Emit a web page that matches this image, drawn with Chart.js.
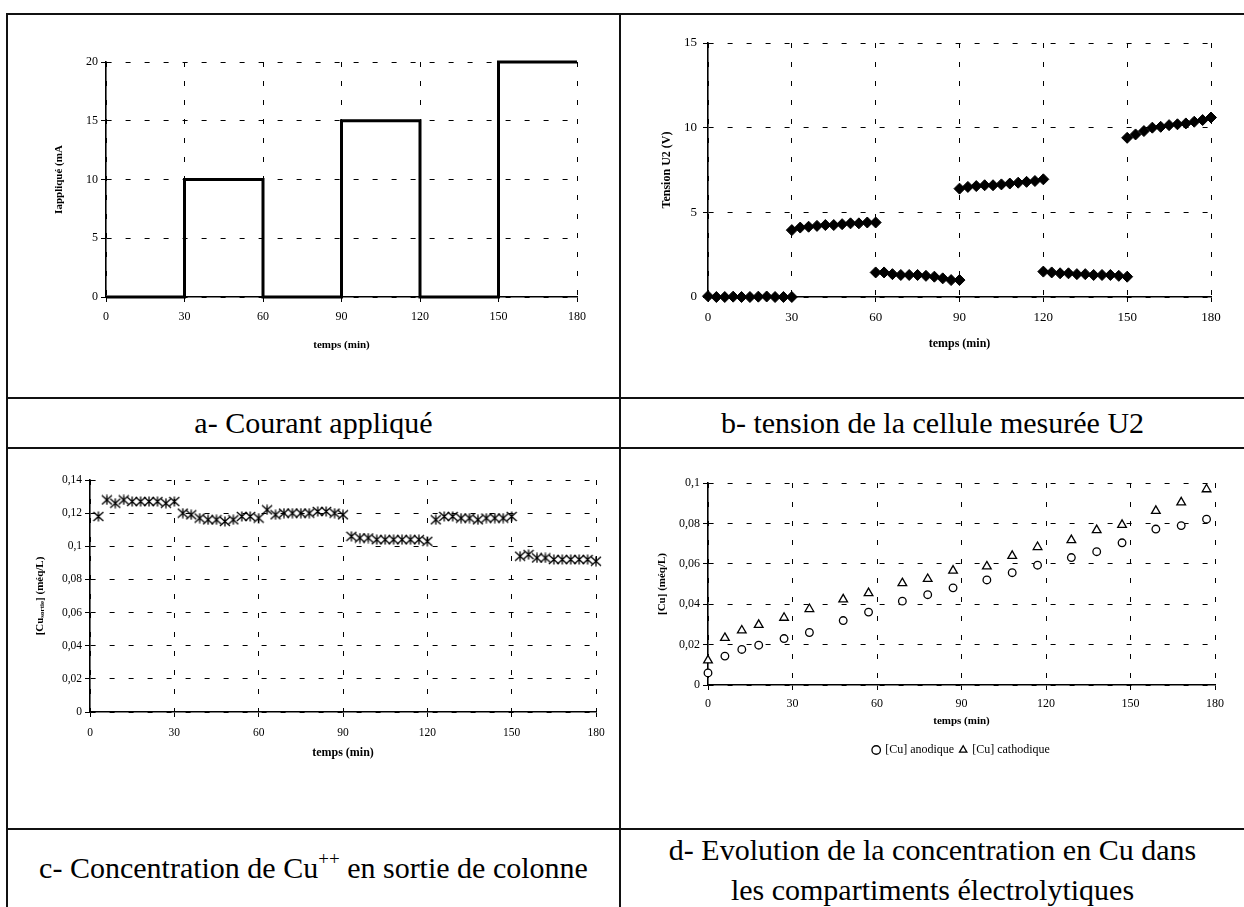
<!DOCTYPE html>
<html>
<head>
<meta charset="utf-8">
<script src="https://cdn.jsdelivr.net/npm/chart.js@4.4.1/dist/chart.umd.min.js"></script>
<style>
  body { margin: 0; background: #fff; }
  #page { position: relative; width: 1244px; height: 907px; overflow: hidden;
          font-family: 'Liberation Serif', 'Times New Roman', serif; color: #000; }
  canvas { position: absolute; }
  .hline { position: absolute; height: 2px; background: #111; }
  .vline { position: absolute; width: 2px; background: #111; }
  .caption { position: absolute; text-align: center; font-size: 30px; line-height: 40px; white-space: nowrap; }
  .caption sup { font-size: 19px; line-height: 0; vertical-align: 13px; }
</style>
</head>
<body>
<div id="page">
  <canvas id="chartA" width="611" height="382" style="left:8px;top:15px"></canvas>
  <canvas id="chartB" width="623" height="382" style="left:621px;top:15px"></canvas>
  <canvas id="chartC" width="611" height="380" style="left:8px;top:449px"></canvas>
  <canvas id="chartD" width="623" height="380" style="left:621px;top:449px"></canvas>

  <div class="hline" style="left:6px;top:13px;width:1238px"></div>
  <div class="hline" style="left:6px;top:397px;width:1238px"></div>
  <div class="hline" style="left:6px;top:447px;width:1238px"></div>
  <div class="hline" style="left:6px;top:828px;width:1238px"></div>
  <div class="vline" style="left:6px;top:13px;height:894px"></div>
  <div class="vline" style="left:619px;top:13px;height:894px"></div>

  <div class="caption" style="left:8px;width:611px;top:403px">a- Courant appliqué</div>
  <div class="caption" style="left:621px;width:623px;top:403px">b- tension de la cellule mesurée U2</div>
  <div class="caption" style="left:8px;width:611px;top:848px">c- Concentration de Cu<sup>++</sup> en sortie de colonne</div>
  <div class="caption" style="left:621px;width:623px;top:830px">d- Evolution de la concentration en Cu dans<br>les compartiments électrolytiques</div>
</div>

<script>
// a- applied current, held from each time until the next one
const stepTimes = [0, 30, 60, 90, 120, 150, 180];
const appliedCurrent = [0, 10, 0, 15, 0, 20, 20];

// b- measured cell voltage U2 (V), readings every 3 min
const tensionTimes = [
  0, 3, 6, 9, 12, 15, 18, 21, 24, 27, 30,
  30, 33, 36, 39, 42, 45, 48, 51, 54, 57, 60,
  60, 63, 66, 69, 72, 75, 78, 81, 84, 87, 90,
  90, 93, 96, 99, 102, 105, 108, 111, 114, 117, 120,
  120, 123, 126, 129, 132, 135, 138, 141, 144, 147, 150,
  150, 153, 156, 159, 162, 165, 168, 171, 174, 177, 180
];
const tensionU2 = [
  0.05, 0, 0, 0.02, 0, 0, 0.02, 0.03, 0, 0, 0,
  3.95, 4.1, 4.15, 4.2, 4.25, 4.25, 4.3, 4.35, 4.35, 4.4, 4.4,
  1.45, 1.45, 1.35, 1.3, 1.3, 1.3, 1.25, 1.2, 1.1, 1.0, 1.0,
  6.4, 6.5, 6.55, 6.6, 6.6, 6.65, 6.7, 6.75, 6.8, 6.85, 6.95,
  1.5, 1.45, 1.4, 1.4, 1.35, 1.35, 1.3, 1.3, 1.3, 1.25, 1.2,
  9.4, 9.6, 9.8, 10.0, 10.05, 10.15, 10.2, 10.25, 10.35, 10.45, 10.6
];

// c- Cu++ at the column outlet (méq/L)
const sortieTimes = [
  3, 6, 9, 12, 15, 18, 21, 24, 27, 30,
  33, 36, 39, 42, 45, 48, 51, 54, 57, 60,
  63, 66, 69, 72, 75, 78, 81, 84, 87, 90,
  93, 96, 99, 102, 105, 108, 111, 114, 117, 120,
  123, 126, 129, 132, 135, 138, 141, 144, 147, 150,
  153, 156, 159, 162, 165, 168, 171, 174, 177, 180
];
const cuSortie = [
  0.118, 0.128, 0.126, 0.128, 0.127, 0.127, 0.127, 0.127, 0.126, 0.127,
  0.120, 0.119, 0.117, 0.116, 0.116, 0.115, 0.116, 0.118, 0.118, 0.117,
  0.122, 0.119, 0.120, 0.120, 0.120, 0.120, 0.121, 0.121, 0.120, 0.119,
  0.106, 0.105, 0.105, 0.104, 0.104, 0.104, 0.104, 0.104, 0.104, 0.103,
  0.116, 0.118, 0.118, 0.117, 0.117, 0.116, 0.117, 0.117, 0.117, 0.118,
  0.094, 0.095, 0.093, 0.093, 0.092, 0.092, 0.092, 0.092, 0.092, 0.091
];

// d- Cu in the anode and cathode compartments (méq/L)
const compTimes = [0, 6, 12, 18, 27, 36, 48, 57, 69, 78, 87, 99, 108, 117, 129, 138, 147, 159, 168, 177];
const cuAnodique = [0.006, 0.0143, 0.0176, 0.0197, 0.023, 0.026, 0.0319, 0.0361, 0.0415, 0.0447,
                    0.0481, 0.052, 0.0556, 0.0593, 0.0631, 0.066, 0.0704, 0.0772, 0.0789, 0.0821];
const cuCathodique = [0.0122, 0.0233, 0.027, 0.0298, 0.0333, 0.0376, 0.0424, 0.0455, 0.0504, 0.0525,
                      0.0566, 0.0587, 0.0639, 0.0683, 0.0717, 0.0767, 0.0793, 0.0862, 0.0904, 0.0969];

const timeTicks = { min: 0, max: 180, step: 30 };

Chart.defaults.color = '#000';
Chart.defaults.font.family = "'Liberation Serif', 'Times New Roman', serif";
Chart.defaults.animation = false;

const pts = (xs, ys) => xs.map((x, i) => ({ x: x, y: ys[i] }));
const frNum = v => String(Math.round(v * 1000) / 1000).replace('.', ',');

// dotted grid, solid axis lines, short outward ticks
function axis(opts) {
  const a = {
    type: 'linear',
    min: opts.min, max: opts.max,
    grid: { color: '#000', lineWidth: 1, tickLength: 5, tickWidth: 1 },
    border: { color: '#000', width: 1.6, dash: [5, 14] },
    ticks: { stepSize: opts.step, padding: opts.pad, font: { size: opts.size },
             callback: opts.fr ? frNum : (v => v) },
    afterFit: s => { if (opts.w) s.width = opts.w; if (opts.h) s.height = opts.h; }
  };
  if (opts.title) {
    a.title = { display: true, text: opts.title, font: { size: opts.tsize, weight: 'bold' },
                padding: opts.tpad };
  }
  return a;
}

// a- Courant appliqué
new Chart(document.getElementById('chartA'), {
  type: 'line',
  data: {
    datasets: [{
      data: pts(stepTimes, appliedCurrent),
      stepped: true,
      borderColor: '#000', borderWidth: 3,
      pointRadius: 0, clip: false
    }]
  },
  options: {
    responsive: false,
    layout: { padding: { left: 0, top: 47, right: 42, bottom: 0 } },
    plugins: { legend: { display: false }, tooltip: { enabled: false } },
    scales: {
      x: axis({ min: timeTicks.min, max: timeTicks.max, step: timeTicks.step, pad: 8, size: 12, h: 100,
                title: 'temps (min)', tsize: 11, tpad: { top: 0, bottom: 45 } }),
      y: axis({ min: 0, max: 20, step: 5, pad: 3, size: 12, w: 98,
                title: 'Iappliqué (mA', tsize: 11, tpad: { top: 45, bottom: 0 } })
    }
  }
});

// b- tension U2
new Chart(document.getElementById('chartB'), {
  type: 'scatter',
  data: {
    datasets: [{
      data: pts(tensionTimes, tensionU2),
      pointStyle: 'rectRot', pointRadius: 5.5,
      backgroundColor: '#000', borderColor: '#000', borderWidth: 1, clip: false
    }]
  },
  options: {
    responsive: false,
    layout: { padding: { left: 0, top: 28, right: 33, bottom: 0 } },
    plugins: { legend: { display: false }, tooltip: { enabled: false } },
    scales: {
      x: axis({ min: timeTicks.min, max: timeTicks.max, step: timeTicks.step, pad: 8, size: 13, h: 100,
                title: 'temps (min)', tsize: 12, tpad: { top: 0, bottom: 46 } }),
      y: axis({ min: 0, max: 15, step: 5, pad: 6, size: 13, w: 87,
                title: 'Tension U2 (V)', tsize: 12, tpad: { top: 39, bottom: 0 } })
    }
  }
});

// asterisk marker: an X crossed by a vertical stroke
function asteriskMark(w, h) {
  const c = document.createElement('canvas');
  c.width = w; c.height = h;
  const g = c.getContext('2d');
  g.strokeStyle = '#000';
  g.lineWidth = 1.3;
  g.beginPath();
  g.moveTo(1, 1); g.lineTo(w - 1, h - 1);
  g.moveTo(w - 1, 1); g.lineTo(1, h - 1);
  g.moveTo(w / 2, 0.5); g.lineTo(w / 2, h - 0.5);
  g.stroke();
  return c;
}

// y title with a subscript: [Cu sortie] (méq/L)
const sortieTitle = {
  id: 'sortieTitle',
  afterDraw(chart) {
    const { ctx, chartArea } = chart;
    const parts = [['[Cu', 11, 0], ['sortie', 7, 2.5], ['] (méq/L)', 11, 0]];
    ctx.save();
    ctx.translate(chart.scales.y.left + 32, (chartArea.top + chartArea.bottom) / 2);
    ctx.rotate(-Math.PI / 2);
    ctx.fillStyle = '#000';
    ctx.textBaseline = 'middle';
    let total = 0;
    parts.forEach(p => {
      ctx.font = 'bold ' + p[1] + "px 'Liberation Serif'";
      total += ctx.measureText(p[0]).width;
    });
    let x = -total / 2;
    parts.forEach(p => {
      ctx.font = 'bold ' + p[1] + "px 'Liberation Serif'";
      ctx.fillText(p[0], x, p[2]);
      x += ctx.measureText(p[0]).width;
    });
    ctx.restore();
  }
};

// c- Cu++ en sortie de colonne
new Chart(document.getElementById('chartC'), {
  type: 'scatter',
  data: {
    datasets: [{
      data: pts(sortieTimes, cuSortie),
      pointStyle: asteriskMark(12, 11), pointRadius: 5, clip: false
    }]
  },
  options: {
    responsive: false,
    layout: { padding: { left: 0, top: 31, right: 23, bottom: 0 } },
    plugins: { legend: { display: false }, tooltip: { enabled: false } },
    scales: {
      x: axis({ min: timeTicks.min, max: timeTicks.max, step: timeTicks.step, pad: 9, size: 11.5, h: 117,
                title: 'temps (min)', tsize: 12, tpad: { top: 0, bottom: 69 } }),
      y: axis({ min: 0, max: 0.14, step: 0.02, pad: 3, size: 11.5, w: 82, fr: true })
    }
  },
  plugins: [sortieTitle]
});

// d- Cu dans les compartiments
new Chart(document.getElementById('chartD'), {
  type: 'scatter',
  data: {
    datasets: [{
      label: '[Cu] anodique',
      data: pts(compTimes, cuAnodique),
      pointStyle: 'circle', pointRadius: 3.8,
      backgroundColor: '#fff', borderColor: '#000', borderWidth: 1.3, clip: false
    }, {
      label: '[Cu] cathodique',
      data: pts(compTimes, cuCathodique),
      pointStyle: 'triangle', pointRadius: 5,
      backgroundColor: '#fff', borderColor: '#000', borderWidth: 1.3, clip: false
    }]
  },
  options: {
    responsive: false,
    layout: { padding: { left: 0, top: 34, right: 29, bottom: 63 } },
    plugins: {
      tooltip: { enabled: false },
      legend: {
        position: 'bottom', fullSize: false,
        labels: { usePointStyle: true, boxWidth: 6, boxHeight: 6, padding: 6, font: { size: 12 } }
      }
    },
    scales: {
      x: axis({ min: timeTicks.min, max: timeTicks.max, step: timeTicks.step, pad: 7, size: 12, h: 53,
                title: 'temps (min)', tsize: 11, tpad: { top: 0, bottom: 10 } }),
      y: axis({ min: 0, max: 0.1, step: 0.02, pad: 3, size: 12, w: 87, fr: true,
                title: '[Cu] (méq/L)', tsize: 11, tpad: { top: 35, bottom: 0 } })
    }
  }
});
</script>
</body>
</html>
